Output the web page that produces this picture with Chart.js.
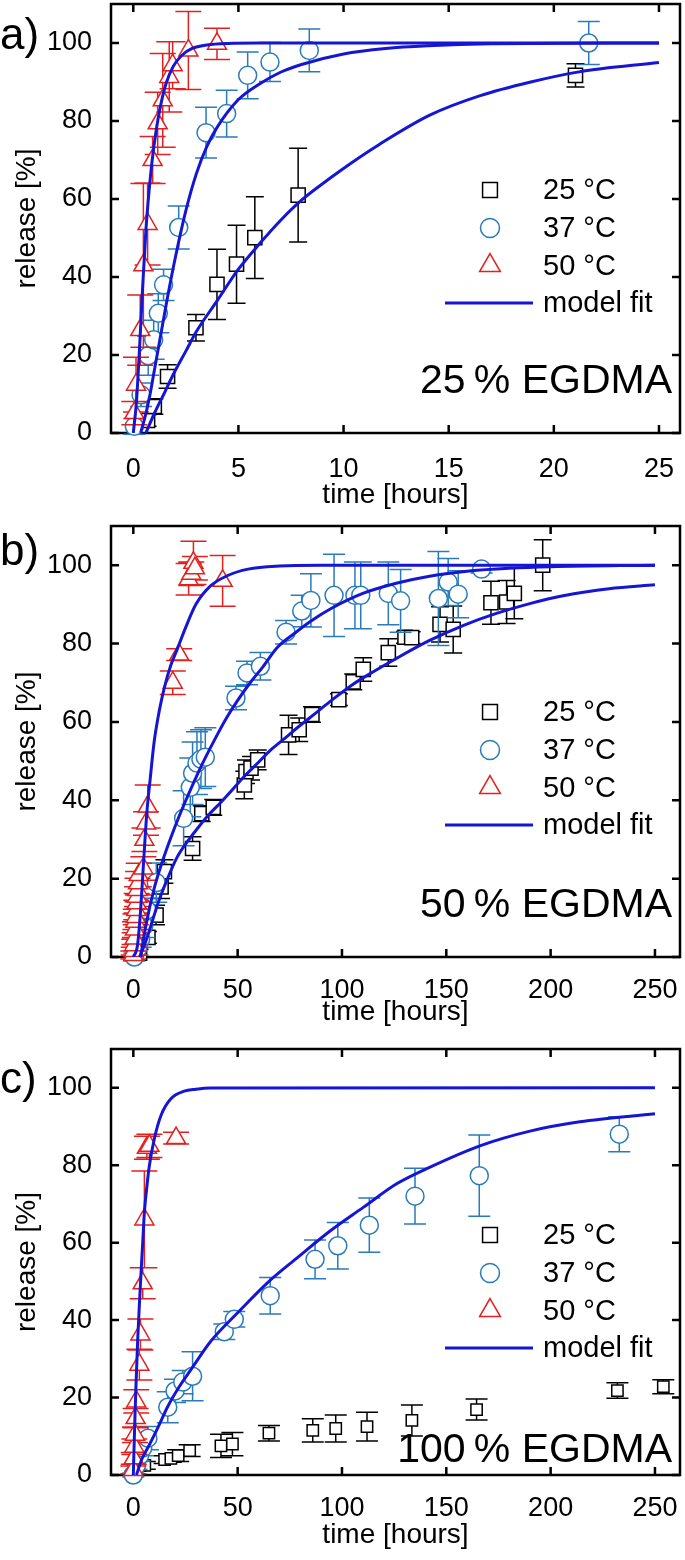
<!DOCTYPE html>
<html>
<head>
<meta charset="utf-8">
<title>Release kinetics</title>
<script src="https://cdn.jsdelivr.net/npm/chart.js@4/dist/chart.umd.min.js"></script>
<style>
  body { margin: 0; background: #fff; }
  .panel { position: absolute; left: 0; }
</style>
</head>
<body>
<div class="panel" style="top:0px"><canvas id="chartA" width="685" height="522"></canvas></div>
<div class="panel" style="top:522px"><canvas id="chartB" width="685" height="523"></canvas></div>
<div class="panel" style="top:1045px"><canvas id="chartC" width="685" height="515"></canvas></div>
<script>
// ---- data: time [hours], release [%], error [%] ----

// a) 25 % EGDMA
const a25Time = [0.68, 1.0, 1.63, 2.98, 3.98, 4.91, 5.78, 7.84, 21.03];
const a25Rel = [3.2, 6.8, 14.5, 27, 38.1, 43.3, 50.1, 61, 91.7];
const a25Err = [1.5, 2, 3, 3.4, 9, 10, 10.5, 12, 3];
const a37Time = [0.05, 0.37, 0.71, 0.97, 1.19, 1.44, 2.16, 3.46, 4.44, 5.44, 6.5, 8.37, 21.66];
const a37Rel = [1.7, 9.8, 19.8, 23.9, 30.7, 38, 52.7, 77, 81.9, 91.7, 95.1, 98.1, 100];
const a37Err = [2, 3, 5, 5, 5, 4, 5.5, 6.5, 6, 6, 5, 5.5, 5.5];
const a50Time = [0.05, 0.13, 0.33, 0.48, 0.68, 0.92, 1.16, 1.40, 1.71, 1.87, 2.62, 3.98];
const a50Rel = [5.1, 12.4, 26.4, 43, 53.6, 70, 79.4, 85.3, 91.3, 94.3, 98.1, 99.8];
const a50Err = [3, 7, 9, 21, 10.5, 6, 8, 12, 9, 6, 10, 4];
const aFit25Time = [0.6, 1.0, 1.5, 1.9, 2.5, 3.0, 4.0, 5.0, 6.0, 7.0, 8.0, 9.4, 10.3, 11.7, 14.1, 16.5, 18.9, 21.2, 25];
const aFit25Rel = [0, 5, 10.5, 15, 21, 26, 34, 42, 48.5, 54.5, 59.7, 65.5, 69, 74, 81.5, 86.5, 90, 92.6, 95];
const aFit37Time = [0.35, 0.6, 0.8, 1.0, 1.2, 1.4, 1.6, 2.0, 2.5, 3.0, 3.5, 4.0, 5.0, 6.0, 7.0, 8.0, 10, 12, 14, 17, 25];
const aFit37Rel = [0, 5, 10, 16, 22, 28, 34, 45, 57, 66.5, 73.5, 78.5, 85.5, 89.5, 92.5, 94.5, 97.2, 98.6, 99.3, 99.8, 100];
const aFit50Time = [0, 0.15, 0.3, 0.45, 0.6, 0.75, 0.9, 1.1, 1.3, 1.55, 1.9, 2.3, 2.8, 3.5, 4.5, 6, 25];
const aFit50Rel = [0, 8, 22, 38, 52, 62, 70, 78, 84, 89.5, 94, 96.8, 98.6, 99.5, 99.9, 100, 100];

// b) 50 % EGDMA
const b25Time = [3, 7, 10.9, 13.3, 14.9, 28.4, 32.8, 38.3, 53.2, 54, 56.4, 59.6, 74.4, 79.5, 85.6, 98.5, 105.4, 110.2, 122.2, 130.2, 133.4, 147, 153.3, 171.4, 178.9, 182.6, 196.2];
const b25Rel = [1, 5, 10.7, 17.9, 21.8, 27.7, 36.6, 38.2, 43.9, 47.3, 48.2, 50.3, 56.7, 58, 61.9, 65.7, 70.2, 73.4, 77.7, 81.6, 81.5, 84.9, 83.6, 90.4, 90.6, 92.8, 100];
const b25Err = [1, 1.5, 2.5, 3, 3, 3, 2, 2, 3.5, 3, 3, 2.5, 5, 3, 2, 1.5, 2, 3, 3.5, 1.5, 1.5, 4.5, 6, 5.5, 5.5, 6.5, 6.5];
const b37Time = [0.5, 2, 3.5, 5, 6.5, 11, 24.1, 27.3, 28.4, 30.5, 32.4, 34.5, 49.2, 54.5, 60.9, 73.2, 80.7, 85.1, 96.2, 106.2, 109, 122.2, 128.1, 146.2, 150.9, 155.7, 166.9];
const b37Rel = [0, 2, 4.5, 8, 12, 19, 35.4, 43.3, 46.9, 49.5, 50.5, 51, 66.1, 72.5, 74.2, 82.9, 88.3, 91, 92.3, 92.3, 92.3, 92.8, 90.9, 91.5, 95.7, 92.6, 99];
const b37Err = [1, 1.5, 2, 3, 3, 5, 7, 7.5, 8, 8, 7.5, 7.5, 3, 3, 3.5, 3, 4, 6.8, 10.5, 8.5, 8.5, 8, 8, 12, 6, 6, 1];
const b50Time = [0, 0.2, 0.4, 0.6, 0.8, 1.0, 1.2, 1.4, 1.6, 1.8, 2.0, 2.3, 2.6, 4.8, 5.3, 6.1, 6.9, 18.9, 22, 26.5, 27.8, 28.8, 29.5, 42.8];
const b50Rel = [0.5, 1.5, 3, 4.7, 7, 9, 10.2, 12, 13.7, 15.4, 17.1, 18.8, 20.9, 22.6, 29.9, 34.1, 38.4, 70, 77.2, 96.4, 97.8, 100.6, 99.2, 96];
const b50Err = [1, 1, 1.5, 1.5, 2, 2, 2, 2.5, 2.5, 2.5, 3, 3, 3, 3, 3, 3, 5.5, 3, 1.5, 4, 3, 5.5, 3, 6.5];
const bFit25Time = [3, 6, 9, 12, 16, 21, 26, 31, 37, 42, 48, 53, 60, 66, 73, 79, 88, 95, 105, 115, 126, 142, 158, 174, 190, 206, 228, 250];
const bFit25Rel = [0, 4, 9, 14, 19.5, 25.5, 29.5, 33, 36.8, 39.5, 43, 46, 49.7, 52.9, 56, 58.7, 62.5, 65.5, 69.5, 72.8, 76.2, 80.8, 84.6, 87.7, 90.2, 92.2, 94, 95];
const bFit37Time = [3.5, 6, 10, 14, 18, 22, 26, 30, 34, 40, 45, 50, 56, 62, 69, 77, 85, 95, 110, 126, 142, 161, 180, 200, 250];
const bFit37Rel = [0, 8, 17.5, 24.5, 30.5, 36, 41, 45.8, 50.3, 56.5, 61.3, 65.5, 70, 74, 79, 82.5, 85.7, 89, 92.8, 95.4, 97.2, 98.5, 99.2, 99.6, 100];
const bFit50Time = [0, 2, 3.5, 5, 6.5, 8, 10, 12.5, 15, 18, 21, 25, 30, 37, 45, 55, 70, 90, 250];
const bFit50Rel = [0, 3, 12, 25, 37, 45, 55, 63, 69, 74.5, 78.5, 84, 90, 94.7, 97.3, 99, 99.8, 100, 100];

// c) 100 % EGDMA
const c25Time = [1, 5.5, 15, 18, 21.5, 27, 42, 47.5, 65, 86, 97, 112, 133.5, 164.5, 232, 254];
const c25Rel = [0.5, 2.5, 4, 4.3, 5, 6.3, 7.5, 8, 10.8, 11.5, 12, 12.5, 14.1, 16.9, 21.8, 22.8];
const c25Err = [0.5, 1, 1, 1, 1.5, 1.5, 3, 3, 2, 3, 3.5, 3.7, 4, 2.7, 2, 1.8];
const c37Time = [0, 1.5, 3, 4.5, 7, 16.5, 20, 23.7, 28.4, 43.6, 48.4, 65.6, 87.1, 98, 113.1, 135, 165.8, 232.9];
const c37Rel = [0, 2.5, 5, 7, 9.5, 17.5, 21.7, 24, 25.5, 37, 40.2, 46.3, 55.7, 59.2, 64.5, 72, 77.3, 88];
const c37Err = [0.5, 1, 1.5, 2, 3, 4, 3, 3, 6.3, 2, 2, 4.7, 5, 6, 7, 7.2, 10.5, 4.5];
const c50Time = [0, 0.2, 0.5, 0.8, 1.1, 1.4, 2.9, 3.4, 4.5, 5.3, 6.5, 7.7, 20.5];
const c50Rel = [1.3, 4.3, 7.3, 10.4, 14.7, 19, 28.5, 36.3, 49.5, 66, 84.5, 85, 87];
const c50Err = [1, 1.5, 2, 2, 2.5, 3, 4, 4, 4, 12.5, 3, 3, 1.5];
const cFit37Time = [1.5, 4, 7.7, 12, 16.5, 22, 27.6, 37.2, 50, 64.4, 78.8, 94.3, 110.2, 126.2, 142.2, 166.1, 190.1, 214, 250];
const cFit37Rel = [0, 4, 7.8, 12.5, 17.7, 22.8, 27.2, 34.6, 41.9, 49.7, 56.2, 63, 69.1, 75.2, 79.5, 85, 88.8, 91.2, 93.3];
const cFit50Time = [0, 0.5, 1.2, 2.1, 3, 3.7, 4.5, 5.3, 6.5, 7.7, 10.1, 13.3, 18.1, 24.4, 30, 37, 250];
const cFit50Rel = [0, 10, 22, 35, 45, 52.3, 60, 67.8, 74.5, 79.9, 86.9, 92.9, 97.2, 99.1, 99.6, 99.9, 100];

// axis ticks and labels
const xTicksA = [0, 5, 10, 15, 20, 25];
const xTicksBC = [0, 50, 100, 150, 200, 250];
const yTicks = [0, 20, 40, 60, 80, 100];
const legendLabels = ["25 °C", "37 °C", "50 °C", "model fit"];

const FONT = "'Liberation Sans', Arial, Helvetica, sans-serif";
const FIT_BLUE = "#1515d6";
const C25 = "#000000";
const C37 = "#2a7bba";
const C50 = "#e3201e";

function pts(xs, ys) {
  return xs.map((x, i) => ({ x: x, y: ys[i] }));
}

// scatter markers with error bars
function markers(label, xs, ys, errs, color, style, radius, capHalf, order) {
  return {
    label: label,
    data: pts(xs, ys),
    errors: errs,
    capHalf: capHalf,
    showLine: false,
    pointStyle: style,
    pointRadius: radius,
    pointBorderWidth: 1.5,
    borderColor: color,
    pointBorderColor: color,
    pointBackgroundColor: "#ffffff",
    clip: false,
    order: order
  };
}

function fitLine(xs, ys) {
  return {
    label: "model fit",
    data: pts(xs, ys),
    showLine: true,
    borderColor: FIT_BLUE,
    borderWidth: 3,
    pointRadius: 0,
    cubicInterpolationMode: "monotone",
    order: 0
  };
}

// don't let chart.js reserve room for overhanging tick labels
function noOverhang(s) {
  s.paddingTop = 0;
  s.paddingBottom = 0;
  s.paddingLeft = 0;
  s.paddingRight = 0;
}

// frame with inward ticks on all four sides
const framePlugin = {
  id: "frame",
  beforeDatasetsDraw(chart) {
    const ctx = chart.ctx;
    const a = chart.chartArea;
    const sx = chart.scales.x;
    const sy = chart.scales.y;
    ctx.save();
    ctx.strokeStyle = "#000";
    ctx.lineWidth = 2.5;
    ctx.strokeRect(a.left, a.top, a.right - a.left, a.bottom - a.top);
    ctx.beginPath();
    sx.ticks.forEach(t => {
      const px = sx.getPixelForValue(t.value);
      ctx.moveTo(px, a.bottom); ctx.lineTo(px, a.bottom - 8);
      ctx.moveTo(px, a.top); ctx.lineTo(px, a.top + 8);
    });
    sy.ticks.forEach(t => {
      const py = sy.getPixelForValue(t.value);
      ctx.moveTo(a.left, py); ctx.lineTo(a.left + 8, py);
      ctx.moveTo(a.right, py); ctx.lineTo(a.right - 8, py);
    });
    ctx.stroke();
    ctx.restore();
  }
};

// vertical error bars, drawn just before each dataset's markers
const errorBarPlugin = {
  id: "errorBars",
  beforeDatasetDraw(chart, args) {
    const ds = chart.data.datasets[args.index];
    if (!ds.errors) return;
    const ctx = chart.ctx;
    const sx = chart.scales.x;
    const sy = chart.scales.y;
    const w = ds.capHalf;
    ctx.save();
    ctx.strokeStyle = ds.borderColor;
    ctx.lineWidth = 1.5;
    ctx.beginPath();
    ds.data.forEach((p, i) => {
      const e = ds.errors[i];
      const x = sx.getPixelForValue(p.x);
      const y1 = sy.getPixelForValue(p.y + e);
      const y2 = sy.getPixelForValue(p.y - e);
      ctx.moveTo(x, y1); ctx.lineTo(x, y2);
      ctx.moveTo(x - w, y1); ctx.lineTo(x + w, y1);
      ctx.moveTo(x - w, y2); ctx.lineTo(x + w, y2);
    });
    ctx.stroke();
    ctx.restore();
  }
};

// panel letter, in-plot legend and EGDMA label
const decorPlugin = {
  id: "decor",
  afterDraw(chart, args, opts) {
    const ctx = chart.ctx;
    const a = chart.chartArea;
    ctx.save();
    ctx.fillStyle = "#000";
    ctx.textBaseline = "alphabetic";
    ctx.textAlign = "left";
    ctx.font = "44px " + FONT;
    ctx.fillText(opts.letter, 0, opts.letterY);

    const mx = a.left + 379;
    const tx = a.left + 432;
    const rows = [186, 224, 261.5, 299].map(r => a.top + r);
    const styles = [
      { pointStyle: "rect", radius: 10.5, color: C25 },
      { pointStyle: "circle", radius: 9.5, color: C37 },
      { pointStyle: "triangle", radius: 12, color: C50 }
    ];
    styles.forEach((s, i) => {
      ctx.strokeStyle = s.color;
      ctx.fillStyle = "#fff";
      Chart.helpers.drawPoint(ctx, { pointStyle: s.pointStyle, radius: s.radius, borderWidth: 1.5, rotation: 0 }, mx, rows[i]);
    });
    ctx.strokeStyle = FIT_BLUE;
    ctx.lineWidth = 3;
    ctx.beginPath();
    ctx.moveTo(a.left + 334, rows[3]);
    ctx.lineTo(a.left + 422, rows[3]);
    ctx.stroke();

    ctx.fillStyle = "#000";
    ctx.font = "29px " + FONT;
    ctx.textBaseline = "middle";
    legendLabels.forEach((t, i) => ctx.fillText(t, tx, rows[i] + 1));

    ctx.font = "41px " + FONT;
    ctx.textAlign = "right";
    ctx.textBaseline = "alphabetic";
    ctx.fillText(opts.label, a.right - 8, a.bottom - opts.labelUp);
    ctx.restore();
  }
};

function makePanel(id, p) {
  new Chart(document.getElementById(id), {
    type: "scatter",
    data: { datasets: p.datasets },
    options: {
      responsive: false,
      animation: false,
      layout: { autoPadding: false, padding: { top: 4, right: 5, left: 0, bottom: 0 } },
      plugins: {
        legend: { display: false },
        tooltip: { enabled: false },
        decor: { letter: p.letter, letterY: p.letterY, label: p.label, labelUp: p.labelUp }
      },
      scales: {
        x: {
          type: "linear",
          min: p.xMin,
          max: p.xMax,
          grid: { display: false },
          border: { display: false },
          afterBuildTicks: s => { s.ticks = p.xTicks.map(v => ({ value: v })); },
          afterFit: s => { s.height = p.xAxisH; noOverhang(s); },
          ticks: { color: "#000", font: { family: FONT, size: 27 }, padding: p.xTickPad },
          title: {
            display: true, text: "time [hours]", color: "#000",
            font: { family: FONT, size: 28 },
            padding: { top: 0, bottom: p.titlePad }
          }
        },
        y: {
          type: "linear",
          min: 0,
          max: 110,
          grid: { display: false },
          border: { display: false },
          afterBuildTicks: s => { s.ticks = yTicks.map(v => ({ value: v })); },
          afterFit: s => { s.width = 111; noOverhang(s); },
          ticks: { color: "#000", font: { family: FONT, size: 27 }, padding: 11 },
          title: {
            display: true, text: "release [%]", color: "#000",
            font: { family: FONT, size: 28 },
            padding: { top: 10, bottom: 0 }
          }
        }
      }
    },
    plugins: [framePlugin, errorBarPlugin, decorPlugin]
  });
}

makePanel("chartA", {
  letter: "a)", letterY: 49, label: "25\u2009% EGDMA", labelUp: 40,
  xMin: -1.06, xMax: 26, xTicks: xTicksA, xAxisH: 89, xTickPad: 12, titlePad: 10.2,
  datasets: [
    markers("25 °C", a25Time, a25Rel, a25Err, C25, "rect", 10, 9, 3),
    markers("37 °C", a37Time, a37Rel, a37Err, C37, "circle", 9, 11, 2),
    markers("50 °C", a50Time, a50Rel, a50Err, C50, "triangle", 11, 13, 1),
    fitLine(aFit25Time, aFit25Rel),
    fitLine(aFit37Time, aFit37Rel),
    fitLine(aFit50Time, aFit50Rel)
  ]
});

makePanel("chartB", {
  letter: "b)", letterY: 43, label: "50\u2009% EGDMA", labelUp: 40,
  xMin: -10.7, xMax: 262, xTicks: xTicksBC, xAxisH: 88, xTickPad: 9, titlePad: 16.2,
  datasets: [
    markers("25 °C", b25Time, b25Rel, b25Err, C25, "rect", 10, 9, 3),
    markers("37 °C", b37Time, b37Rel, b37Err, C37, "circle", 9, 11, 2),
    markers("50 °C", b50Time, b50Rel, b50Err, C50, "triangle", 11, 13, 1),
    fitLine(bFit25Time, bFit25Rel),
    fitLine(bFit37Time, bFit37Rel),
    fitLine(bFit50Time, bFit50Rel)
  ]
});

makePanel("chartC", {
  letter: "c)", letterY: 48, label: "100\u2009% EGDMA", labelUp: 13,
  xMin: -10.7, xMax: 262, xTicks: xTicksBC, xAxisH: 85, xTickPad: 9, titlePad: 8.2,
  datasets: [
    markers("25 °C", c25Time, c25Rel, c25Err, C25, "rect", 8, 11, 3),
    markers("37 °C", c37Time, c37Rel, c37Err, C37, "circle", 9, 11, 2),
    markers("50 °C", c50Time, c50Rel, c50Err, C50, "triangle", 11, 13, 1),
    fitLine(cFit37Time, cFit37Rel),
    fitLine(cFit50Time, cFit50Rel)
  ]
});
</script>
</body>
</html>
